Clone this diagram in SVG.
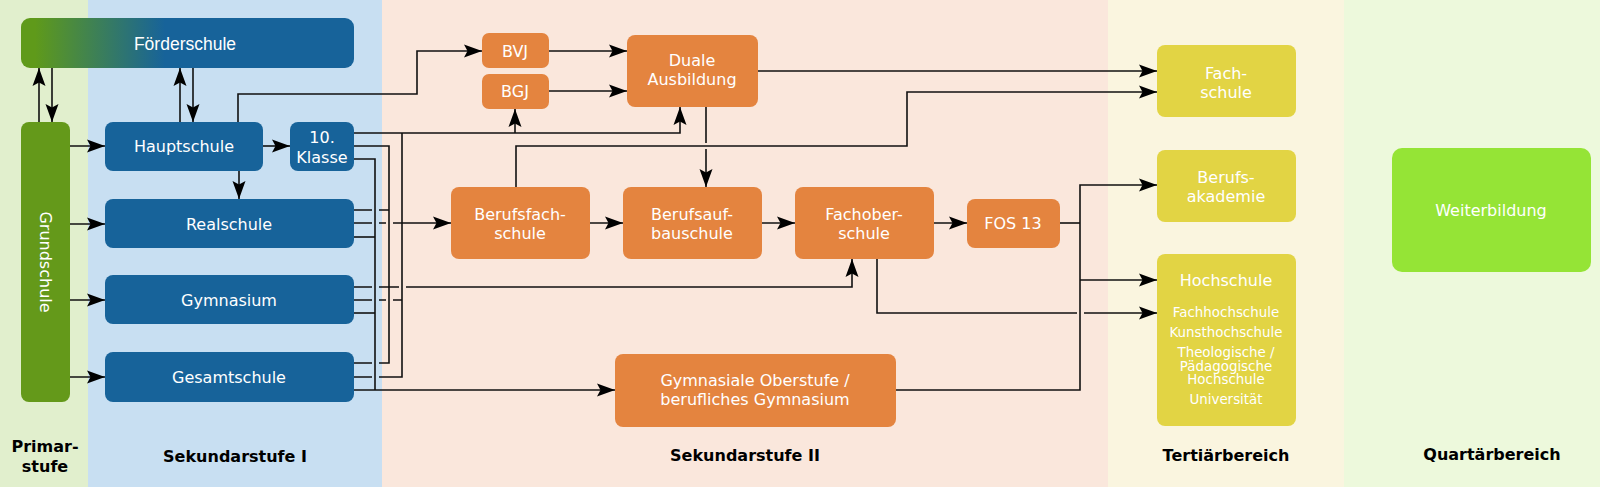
<svg xmlns="http://www.w3.org/2000/svg" width="1600" height="487" viewBox="0 0 1600 487">
<defs>
<linearGradient id="fg" gradientUnits="userSpaceOnUse" x1="35" y1="0" x2="165" y2="0">
<stop offset="0" stop-color="#5f9a1a"/>
<stop offset="1" stop-color="#17639a"/>
</linearGradient>
<marker id="a" markerUnits="userSpaceOnUse" markerWidth="18" markerHeight="14" viewBox="0 0 18 14" refX="18" refY="7" orient="auto" overflow="visible">
<path d="M0,0.5 L18,7 L0,13.5 L3.5,7 Z" fill="#000"/>
</marker>
<style>
.blue{fill:#17639a}
.green{fill:#64991a}
.orange{fill:#e4843f}
.yellow{fill:#e2d444}
.lime{fill:#95e436}
.t{font-family:"DejaVu Sans",sans-serif;font-size:16px;fill:#fff;text-anchor:middle}
.s{font-family:"DejaVu Sans",sans-serif;font-size:13.4px;fill:#fff;text-anchor:middle}
.lbl{font-family:"DejaVu Sans",sans-serif;font-weight:bold;font-size:16px;fill:#000;text-anchor:middle}
.c{fill:none;stroke:#111;stroke-width:1.6}
.ar{marker-end:url(#a)}
</style>
</defs>
<g id="bands">
<rect x="0" y="0" width="88" height="487" fill="#e1efcd"/>
<rect x="88" y="0" width="294" height="487" fill="#c8dff2"/>
<rect x="382" y="0" width="726" height="487" fill="#fae7dc"/>
<rect x="1108" y="0" width="236" height="487" fill="#faf5df"/>
<rect x="1344" y="0" width="256" height="487" fill="#edf9dc"/>
<text class="lbl" x="45" y="452">Primar-</text>
<text class="lbl" x="45" y="472">stufe</text>
<text class="lbl" x="235" y="462">Sekundarstufe I</text>
<text class="lbl" x="745" y="461">Sekundarstufe II</text>
<text class="lbl" x="1226" y="461">Tertiärbereich</text>
<text class="lbl" x="1492" y="460">Quartärbereich</text>
</g>
<g id="connectors">
<path class="c ar" d="M39,122 V68"/>
<path class="c ar" d="M52,68 V122"/>
<path class="c ar" d="M180,122 V68"/>
<path class="c ar" d="M193,68 V122"/>
<path class="c ar" d="M70,146 H105"/>
<path class="c ar" d="M70,224 H105"/>
<path class="c ar" d="M70,300 H105"/>
<path class="c ar" d="M70,377 H105"/>
<path class="c ar" d="M263,146 H290"/>
<path class="c ar" d="M239,171 V199"/>
<path class="c ar" d="M238,122 V94 H417 V51 H482"/>
<path class="c ar" d="M549,51 H627"/>
<path class="c ar" d="M549,91 H627"/>
<path class="c ar" d="M354,133 H680 V107"/>
<path class="c ar" d="M515,133 V109"/>
<path class="c" d="M354,146 H389 V363 H379 M372,363 H354"/>
<path class="c" d="M354,159 H375 V390"/>
<path class="c" d="M402,133 V377 H379 M372,377 H354"/>
<path class="c" d="M354,210 H372 M379,210 H389"/>
<path class="c ar" d="M354,223 H372 M379,223 H386 M393,223 H451"/>
<path class="c" d="M354,237 H375"/>
<path class="c ar" d="M354,287 H372 M379,287 H399 M406,287 H852 V259"/>
<path class="c" d="M354,300 H372 M379,300 H386 M393,300 H402"/>
<path class="c" d="M354,313 H375"/>
<path class="c ar" d="M354,390 H615"/>
<path class="c ar" d="M516,187 V146 H907 V92 H1157"/>
<path class="c ar" d="M706,107 V143 M706,149 V187"/>
<path class="c ar" d="M758,71 H1157"/>
<path class="c ar" d="M590,223 H623"/>
<path class="c ar" d="M762,223 H795"/>
<path class="c ar" d="M934,223 H967"/>
<path class="c" d="M1060,223 H1080"/>
<path class="c ar" d="M896,390 H1080 V185 H1157"/>
<path class="c ar" d="M1080,280 H1157"/>
<path class="c ar" d="M877,259 V313 H1077 M1084,313 H1157"/>
</g>
<g id="foerderschule">
<rect x="21" y="18" width="333" height="50" rx="9" fill="url(#fg)"/>
<text x="185" y="50" style="font-family:'Liberation Sans',Arial,sans-serif;font-size:17.5px;fill:#fff;text-anchor:middle">Förderschule</text>
</g>
<g id="grundschule">
<rect class="green" x="21" y="122" width="49" height="280" rx="8"/>
<text class="t" transform="translate(45,262) rotate(90)" x="0" y="5.5">Grundschule</text>
</g>
<g id="hauptschule">
<rect class="blue" x="105" y="122" width="158" height="49" rx="8"/>
<text class="t" x="184" y="151.5">Hauptschule</text>
</g>
<g id="klasse10">
<rect class="blue" x="290" y="122" width="64" height="49" rx="8"/>
<text class="t" x="322" y="142.5">10.</text>
<text class="t" x="322" y="162.5">Klasse</text>
</g>
<g id="realschule">
<rect class="blue" x="105" y="199" width="249" height="49" rx="8"/>
<text class="t" x="229" y="229.5">Realschule</text>
</g>
<g id="gymnasium">
<rect class="blue" x="105" y="275" width="249" height="49" rx="8"/>
<text class="t" x="229" y="305.5">Gymnasium</text>
</g>
<g id="gesamtschule">
<rect class="blue" x="105" y="352" width="249" height="50" rx="8"/>
<text class="t" x="229" y="382.5">Gesamtschule</text>
</g>
<g id="bvj">
<rect class="orange" x="482" y="33" width="67" height="35" rx="7"/>
<text class="t" x="515" y="56.5">BVJ</text>
</g>
<g id="bgj">
<rect class="orange" x="482" y="74" width="67" height="35" rx="7"/>
<text class="t" x="515" y="96.5">BGJ</text>
</g>
<g id="duale">
<rect class="orange" x="627" y="35" width="131" height="72" rx="8"/>
<text class="t" x="692" y="65.5">Duale</text>
<text class="t" x="692" y="84.5">Ausbildung</text>
</g>
<g id="berufsfachschule">
<rect class="orange" x="451" y="187" width="139" height="72" rx="8"/>
<text class="t" x="520" y="219.5">Berufsfach-</text>
<text class="t" x="520" y="238.5">schule</text>
</g>
<g id="berufsaufbauschule">
<rect class="orange" x="623" y="187" width="139" height="72" rx="8"/>
<text class="t" x="692" y="219.5">Berufsauf-</text>
<text class="t" x="692" y="238.5">bauschule</text>
</g>
<g id="fachoberschule">
<rect class="orange" x="795" y="187" width="139" height="72" rx="8"/>
<text class="t" x="864" y="219.5">Fachober-</text>
<text class="t" x="864" y="238.5">schule</text>
</g>
<g id="fos13">
<rect class="orange" x="967" y="199" width="93" height="49" rx="8"/>
<text class="t" x="1013" y="228.5">FOS 13</text>
</g>
<g id="gymoberstufe">
<rect class="orange" x="615" y="354" width="281" height="73" rx="8"/>
<text class="t" x="755" y="385.5">Gymnasiale Oberstufe /</text>
<text class="t" x="755" y="404.5">berufliches Gymnasium</text>
</g>
<g id="fachschule">
<rect class="yellow" x="1157" y="45" width="139" height="72" rx="8"/>
<text class="t" x="1226" y="78.5">Fach-</text>
<text class="t" x="1226" y="97.5">schule</text>
</g>
<g id="berufsakademie">
<rect class="yellow" x="1157" y="150" width="139" height="72" rx="8"/>
<text class="t" x="1226" y="182.5">Berufs-</text>
<text class="t" x="1226" y="201.5">akademie</text>
</g>
<g id="hochschule">
<rect class="yellow" x="1157" y="254" width="139" height="172" rx="8"/>
<text class="t" x="1226" y="285.5">Hochschule</text>
<text class="s" x="1226" y="317">Fachhochschule</text>
<text class="s" x="1226" y="337">Kunsthochschule</text>
<text class="s" x="1226" y="357">Theologische /</text>
<text class="s" x="1226" y="371">Pädagogische</text>
<text class="s" x="1226" y="384">Hochschule</text>
<text class="s" x="1226" y="404">Universität</text>
</g>
<g id="weiterbildung">
<rect class="lime" x="1392" y="148" width="199" height="124" rx="10"/>
<text class="t" x="1491" y="215.5">Weiterbildung</text>
</g>
</svg>
